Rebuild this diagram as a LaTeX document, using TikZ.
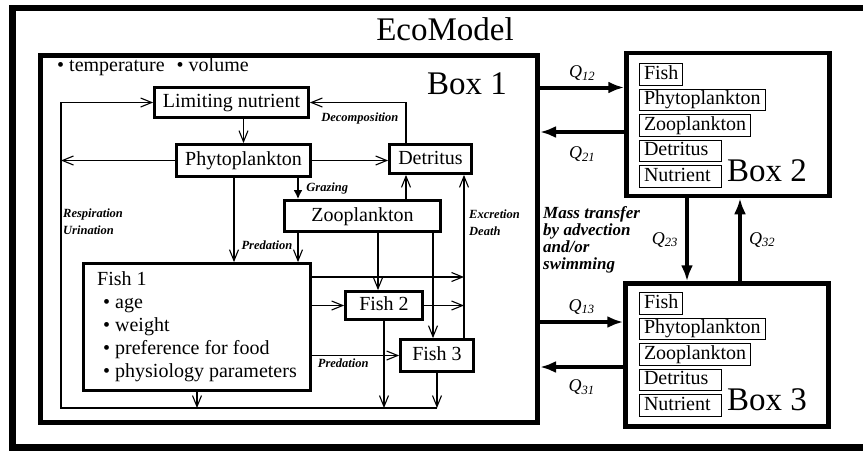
\documentclass[tikz,border=0pt]{standalone}
\usepackage{fontspec}
\setmainfont{Liberation Serif}
\usetikzlibrary{arrows.meta,positioning}

\newcommand{\flux}[1]{\textit{Q}\textsubscript{\textit{#1}}}

\tikzset{
  comp/.style={draw, line width=2.8pt, inner sep=0pt, text height=14pt, text depth=4pt,
    font=\fontsize{20}{23}\selectfont},
  fishbox/.style={draw, line width=2.8pt, inner xsep=0pt, align=left,
    font=\fontsize{20}{23}\selectfont},
  cell/.style={draw, line width=1pt, inner xsep=4.5pt, inner ysep=1.5pt, text height=14pt,
    text depth=4.5pt, font=\fontsize{20}{23}\selectfont},
  widecell/.style={cell, text width=73pt, align=left},
  bigbox/.style={draw, line width=4.5pt, inner sep=0pt},
  boxlab/.style={inner sep=0pt, font=\fontsize{33}{36}\selectfont},
  lab/.style={inner sep=0pt, font=\fontsize{12.5}{17}\selectfont\bfseries\itshape},
  masslab/.style={inner sep=0pt, font=\fontsize{17}{17}\selectfont\bfseries\itshape},
  qlab/.style={inner sep=0pt, font=\fontsize{18}{20}\selectfont\itshape},
  flow/.style={line width=1.1pt, -{Straight Barb[length=11pt,width=9pt]}},
  graze/.style={line width=2.8pt, -{Latex[length=9pt,width=9pt]}},
  qflow/.style={line width=4pt, -{Latex[length=16pt,width=12pt]}},
}

\begin{document}
\begin{tikzpicture}[x=1pt, y=-1pt]
    \useasboundingbox (0,0) rectangle (863,451);
    \clip (0,0) rectangle (863,451);
    % outer frame, cut at the right
    \draw[line width=6.5pt] (880,8) -- (12.5,8) -- (12.5,447.5) -- (880,447.5);
    \node[boxlab, anchor=base] (title) at (445,40) {EcoModel};

    % the three boxes
    \node[bigbox, line width=5pt, minimum width=497pt, minimum height=367pt] (box1) at (289,239) {};
    \node[bigbox, minimum width=203pt, minimum height=143pt] (box2) at (728,124.5) {};
    \node[bigbox, minimum width=203pt, minimum height=143pt] (box3) at (727,355) {};
    \node[boxlab, anchor=base east] (box1lab) at (507,94) {Box 1};
    \node[anchor=base west, inner sep=0pt, font=\fontsize{20}{23}\selectfont] (vars) at (57,71)
      {\textbullet\ temperature\hspace{12pt}\textbullet\ volume};

    % compartments of box 1
    \node[comp, minimum width=154pt, minimum height=30pt] (lim) at (231.5,102.5) {Limiting nutrient};
    \node[comp, minimum width=134pt, minimum height=32pt] (phy) at (243.5,160.5) {Phytoplankton};
    \node[comp, minimum width=82pt, minimum height=29pt] (det) at (430.5,159) {Detritus};
    \node[comp, minimum width=156pt, minimum height=31pt] (zoo) at (362.5,216) {Zooplankton};
    \node[fishbox, minimum width=227pt, minimum height=127pt] (fish1) at (197,327)
      {Fish 1\\\hspace*{6pt}\textbullet\ age\\\hspace*{6pt}\textbullet\ weight\\
       \hspace*{6pt}\textbullet\ preference for food\\\hspace*{6pt}\textbullet\ physiology parameters};
    \node[comp, minimum width=77pt, minimum height=28pt] (fish2) at (384,305.5) {Fish 2};
    \node[comp, minimum width=73pt, minimum height=32pt] (fish3) at (437,355.5) {Fish 3};

    \coordinate (loopbl) at (61,408);
    \coordinate (exc) at (464,277);
    \coordinate (dcol) at (406,130);
    \coordinate (gcol) at (298,190);
    \coordinate (pcol) at (234,250);
    \coordinate (z2col) at (378,250);
    \coordinate (z3col) at (433,250);

    % flows inside box 1
    \draw[flow] (fish3.south |- loopbl) -- (loopbl) |- (lim.west);
    \draw[flow] (phy.west) -- (phy.west -| loopbl);
    \draw[flow] (lim.south -| phy) -- (phy.north);
    \draw[flow] (phy.east) -- (phy.east -| det.west);
    \draw[flow] (det.north -| dcol) |- (lim.east) node[lab, pos=0.74, below=10pt] {Decomposition};
    \draw[flow] (zoo.north -| dcol) -- (det.south -| dcol);
    \draw[flow] (fish3.north -| exc) -- (det.south -| exc);
    \draw[graze] (phy.south -| gcol) -- (zoo.north -| gcol) node[lab, midway, right=7pt] {Grazing};
    \draw[flow] (phy.south -| pcol) -- (fish1.north -| pcol) node[lab, pos=0.8, right=7pt] {Predation};
    \draw[flow] (zoo.south -| gcol) -- (fish1.north -| gcol);
    \draw[flow] (zoo.south -| z2col) -- (fish2.north -| z2col);
    \draw[flow] (zoo.south -| z3col) -- (fish3.north -| z3col);
    \draw[flow] (fish1.east |- exc) -- (exc);
    \draw[flow] (fish2.east) -- (fish2.east -| exc);
    \draw[flow] (fish1.east |- fish2) -- (fish2.west);
    \draw[flow] (fish1.east |- fish3) -- (fish3.west) node[lab, pos=0.36, below=3pt] {Predation};
    \draw[flow] (fish1.south) -- (fish1.south |- loopbl);
    \draw[flow] (fish2.south) -- (fish2.south |- loopbl);
    \draw[flow] (fish3.south) -- (fish3.south |- loopbl);
    \node[lab, anchor=west, align=left] (resplab) at (63,222) {Respiration\\Urination};
    \node[lab, anchor=west, align=left] (exclab) at (469,223) {Excretion\\Death};

    % contents of box 2
    \node[cell, anchor=north west] (b2fish) at (639,63) {Fish};
    \node[cell, below right=3pt and 0pt of b2fish.south west] (b2phy) {Phytoplankton};
    \node[cell, below right=3pt and 0pt of b2phy.south west] (b2zoo) {Zooplankton};
    \node[widecell, below right=3pt and 0pt of b2zoo.south west] (b2det) {Detritus};
    \node[widecell, below right=3pt and 0pt of b2det.south west] (b2nut) {Nutrient};
    \node[boxlab, anchor=base west] (box2lab) at ([xshift=5pt]b2nut.base east) {Box 2};

    % contents of box 3
    \node[cell, anchor=north west] (b3fish) at (639,292) {Fish};
    \node[cell, below right=3pt and 0pt of b3fish.south west] (b3phy) {Phytoplankton};
    \node[cell, below right=3pt and 0pt of b3phy.south west] (b3zoo) {Zooplankton};
    \node[widecell, below right=3pt and 0pt of b3zoo.south west] (b3det) {Detritus};
    \node[widecell, below right=3pt and 0pt of b3det.south west] (b3nut) {Nutrient};
    \node[boxlab, anchor=base west] (box3lab) at ([xshift=5pt]b3nut.base east) {Box 3};

    % mass transfer between boxes
    \coordinate (q12) at ([yshift=37pt]box2.west);
    \coordinate (q21) at ([yshift=-7.5pt]box2.west);
    \coordinate (q13) at ([yshift=33pt]box3.west);
    \coordinate (q31) at ([yshift=-12pt]box3.west);
    \coordinate (q23) at ([xshift=-41pt]box2.south);
    \coordinate (q32) at ([xshift=13pt]box3.north);
    \draw[qflow] (q12 -| box1.east) -- (q12) node[qlab, midway, above=5pt] {\flux{12}};
    \draw[qflow] (q21) -- (q21 -| box1.east) node[qlab, midway, below=13pt] {\flux{21}};
    \draw[qflow] (q13 -| box1.east) -- (q13) node[qlab, midway, above=6pt] {\flux{13}};
    \draw[qflow] (q31) -- (q31 -| box1.east) node[qlab, midway, below=11pt] {\flux{31}};
    \draw[qflow] (q23) -- (q23 |- box3.north) node[qlab, midway, left=7pt] {\flux{23}};
    \draw[qflow] (q32) -- (q32 |- box2.south) node[qlab, midway, right=7pt] {\flux{32}};
    \node[masslab, anchor=north west, align=left] (masstext) at (543,206)
      {Mass transfer\\by advection\\and/or\\swimming};
\end{tikzpicture}
\end{document}
